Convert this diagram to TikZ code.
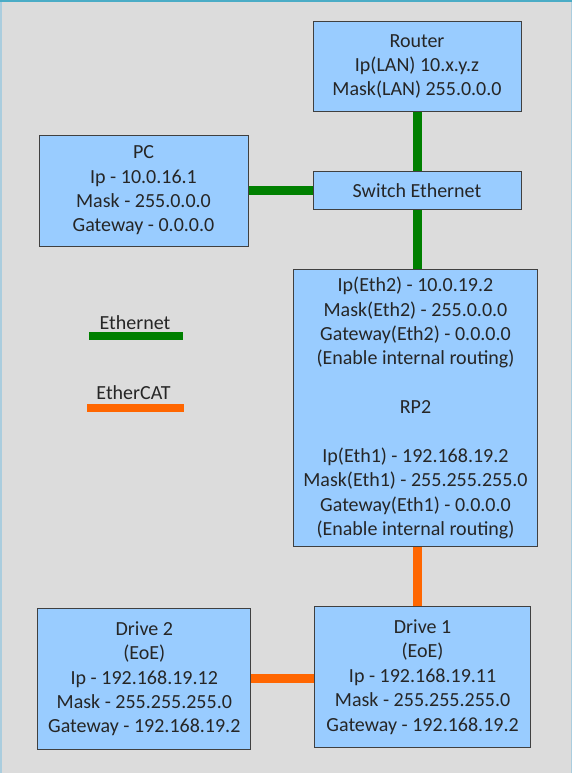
\documentclass[tikz,border=0pt]{standalone}
\usepackage{fontspec}
\setmainfont{Carlito}
\definecolor{boxblue}{RGB}{153,204,255}
\definecolor{bggray}{RGB}{220,220,220}
\definecolor{ethgreen}{RGB}{0,128,0}
\definecolor{catorange}{RGB}{255,102,0}
\definecolor{framebar}{RGB}{75,172,198}
\definecolor{frameside}{RGB}{170,205,222}

\begin{document}
\begin{tikzpicture}[
          x=1pt, y=-1pt, % pixel grid, y pointing down
          every node/.style={align=center, inner sep=0pt, text=black!85, font=\fontsize{20}{24.4}\selectfont},
          netbox/.style={rectangle, draw=black!75, line width=1pt, fill=boxblue},
          ethlink/.style={draw=ethgreen, line width=9pt},
          catlink/.style={draw=catorange, line width=9pt},
          legline/.style={line width=8pt}
        ]
        \useasboundingbox (0,0) rectangle (572,773);
        \fill[bggray] (0,0) rectangle (572,773);
        \fill[framebar] (0,0) rectangle (572,2.5);
        \fill[frameside] (0,2.5) rectangle (1.5,773);
        \fill[frameside] (570.5,2.5) rectangle (572,773);

        % devices
        \node[netbox, minimum width=208pt, minimum height=90pt] (router) at (417,66.5) {Router\\ Ip(LAN) 10.x.y.z\\ Mask(LAN) 255.0.0.0};
        \node[netbox, minimum width=208pt, minimum height=38pt] (switch) at (417,190.3) {Switch Ethernet};
        \node[netbox, minimum width=209pt, minimum height=111pt] (pc) at (143.5,190.5) {PC\\ Ip - 10.0.16.1\\ Mask - 255.0.0.0\\ Gateway - 0.0.0.0};
        \node[netbox, minimum width=244pt, minimum height=277pt] (rp2) at (415.5,408) {Ip(Eth2) - 10.0.19.2\\ Mask(Eth2) - 255.0.0.0\\ Gateway(Eth2) - 0.0.0.0\\ (Enable internal routing)\\[24.4pt] RP2\\[24.4pt] Ip(Eth1) - 192.168.19.2\\ Mask(Eth1) - 255.255.255.0\\ Gateway(Eth1) - 0.0.0.0\\ (Enable internal routing)};
        \node[netbox, minimum width=216pt, minimum height=141pt] (drive1) at (422.6,677) {Drive 1\\ (EoE)\\ Ip - 192.168.19.11\\ Mask - 255.255.255.0\\ Gateway - 192.168.19.2};
        \node[netbox, minimum width=213pt, minimum height=141pt] (drive2) at (144.3,678.8) {Drive 2\\ (EoE)\\ Ip - 192.168.19.12\\ Mask - 255.255.255.0\\ Gateway - 192.168.19.2};

        % links
        \draw[ethlink] (router.south) -- (switch.north);
        \draw[ethlink] (pc.east) -- (pc.east -| switch.west);
        \draw[ethlink] (switch.south) -- (switch.south |- rp2.north);
        \draw[catlink] ([xshift=2pt]rp2.south) -- ([xshift=2pt]rp2.south |- drive1.north);
        \draw[catlink] (drive2.east) -- (drive2.east -| drive1.west);

        % legend
        \node (ethlabel) at (135,323) {Ethernet};
        \node (catlabel) at (133.5,393) {EtherCAT};
        \coordinate (ethL) at (89,336);
        \coordinate (ethR) at (183,336);
        \coordinate (catL) at (87,408);
        \coordinate (catR) at (184,408);
        \draw[legline, ethgreen] (ethL) -- (ethR);
        \draw[legline, catorange] (catL) -- (catR);
        \end{tikzpicture}
\end{document}
